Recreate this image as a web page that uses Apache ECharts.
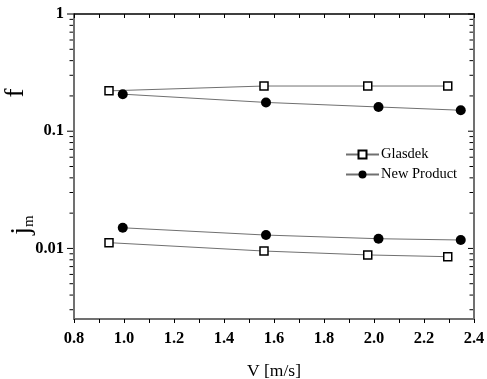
<!DOCTYPE html>
<html><head><meta charset="utf-8">
<script src="https://cdn.jsdelivr.net/npm/echarts@6/dist/echarts.min.js"></script>
<style>html,body{margin:0;padding:0;background:#fff}#c{width:487px;height:379px}</style>
</head><body><div id="c"></div>
<script>
// ---- data ----
const glasdekV = [0.94, 1.56, 1.975, 2.295];
const glasdekF = [0.221, 0.243, 0.243, 0.243];
const glasdekJm = [0.0112, 0.0095, 0.0088, 0.0085];
const newV = [0.995, 1.568, 2.018, 2.347];
const newF = [0.207, 0.176, 0.161, 0.151];
const newJm = [0.0150, 0.0130, 0.0121, 0.0118];
const seriesNames = ['Glasdek', 'New Product'];
const xTickLabels = ['0.8', '1.0', '1.2', '1.4', '1.6', '1.8', '2.0', '2.2', '2.4'];
const yTickValues = [0.01, 0.1, 1];
const yTickLabels = ['0.01', '0.1', '1'];
const yMinorTicks = [0.003, 0.004, 0.005, 0.006, 0.007, 0.008, 0.009,
  0.02, 0.03, 0.04, 0.05, 0.06, 0.07, 0.08, 0.09,
  0.2, 0.3, 0.4, 0.5, 0.6, 0.7, 0.8, 0.9];
const xMin = 0.8, xMax = 2.4, yMin = 0.0025, yMax = 1;

const serif = '"Liberation Serif", "Times New Roman", serif';
const lineColor = '#707070';
const pairs = (xs, ys) => xs.map((x, i) => [x, ys[i]]);

const squareStyle = {
  type: 'line', name: seriesNames[0], symbol: 'rect', symbolSize: 8,
  itemStyle: { color: '#fff', borderColor: '#000', borderWidth: 1.5 },
  lineStyle: { color: lineColor, width: 1 }
};
const circleStyle = {
  type: 'line', name: seriesNames[1], symbol: 'circle', symbolSize: 10,
  itemStyle: { color: '#000', borderColor: '#000', borderWidth: 0 },
  lineStyle: { color: lineColor, width: 1 }
};

const chart = echarts.init(document.getElementById('c'), null, { renderer: 'canvas' });
chart.setOption({
  animation: false,
  backgroundColor: '#fff',
  grid: { left: 74, right: 13, top: 14, bottom: 60, containLabel: false, outerBoundsMode: 'none' },
  legend: {
    data: seriesNames, left: 340, top: 142, orient: 'vertical',
    itemWidth: 33, itemHeight: 10, itemGap: 5,
    textStyle: { fontFamily: serif, fontSize: 14.5, color: '#000', padding: [0, 0, 0, -3] }
  },
  xAxis: [{
    type: 'value', min: xMin, max: xMax, interval: 0.1, position: 'bottom',
    name: 'V [m/s]', nameLocation: 'middle', nameGap: 43,
    nameTextStyle: { fontFamily: serif, fontSize: 17.5, color: '#000' },
    axisLine: { lineStyle: { color: lineColor, width: 2 } },
    axisTick: { show: true, inside: false, length: 4, lineStyle: { color: '#000', width: 1 } },
    axisLabel: {
      fontFamily: serif, fontWeight: 'bold', fontSize: 16.5, color: '#000', margin: 11,
      formatter: v => { const k = Math.round(v * 10); return k % 2 === 0 ? xTickLabels[(k - 8) / 2] : ''; }
    },
    splitLine: { show: false }
  }, {
    type: 'value', min: xMin, max: xMax, interval: 0.1, position: 'top',
    axisLine: { lineStyle: { color: '#000', width: 1.5 } },
    axisTick: { show: true, inside: true, length: 4, lineStyle: { color: '#000', width: 1 } },
    axisLabel: { show: false }, splitLine: { show: false }
  }],
  yAxis: [{
    type: 'log', logBase: 10, min: yMin, max: yMax, position: 'left',
    axisLine: { lineStyle: { color: lineColor, width: 2 } },
    axisTick: { show: false },
    axisLabel: {
      fontFamily: serif, fontWeight: 'bold', fontSize: 16.5, color: '#000', margin: 10,
      showMinLabel: false,
      formatter: v => { const i = yTickValues.findIndex(t => Math.abs(t - v) / t < 1e-6); return i >= 0 ? yTickLabels[i] : ''; }
    },
    splitLine: { show: false }
  }, {
    type: 'log', logBase: 10, min: yMin, max: yMax, position: 'right',
    axisLine: { lineStyle: { color: lineColor, width: 2 } },
    axisTick: { show: false }, axisLabel: { show: false }, splitLine: { show: false }
  }],
  graphic: [
    { type: 'text', x: 16, y: 93, rotation: Math.PI / 2,
      style: { text: 'f', font: '27px "Liberation Serif"', fill: '#000', textAlign: 'center', textVerticalAlign: 'middle' } },
    { type: 'text', x: 22, y: 225, rotation: Math.PI / 2,
      style: { text: '{a|j}{b|m}', fill: '#000', textAlign: 'center', textVerticalAlign: 'middle',
        rich: { a: { fontFamily: serif, fontSize: 28, lineHeight: 30, verticalAlign: 'middle' },
                b: { fontFamily: serif, fontSize: 15, lineHeight: 30, verticalAlign: 'bottom', padding: [9, 0, 0, 0] } } } }
  ],
  series: [
    Object.assign({ data: pairs(glasdekV, glasdekF) }, squareStyle),
    Object.assign({ data: pairs(newV, newF) }, circleStyle),
    Object.assign({ data: pairs(glasdekV, glasdekJm) }, squareStyle),
    Object.assign({ data: pairs(newV, newJm) }, circleStyle),
    {
      type: 'custom', name: 'yticks', silent: true, clip: false,
      data: yMinorTicks.map(v => [v, 0]).concat(yTickValues.map(v => [v, 1])),
      encode: { x: -1, y: 0 },
      renderItem: (params, api) => {
        const v = api.value(0), major = api.value(1) === 1;
        const pl = api.coord([xMin, v]), pr = api.coord([xMax, v]);
        const ll = major ? 6 : 3.5, lr = major ? 5 : 3.5;
        const st = { stroke: '#000', lineWidth: 1 };
        return { type: 'group', children: [
          { type: 'line', shape: { x1: pl[0] - 1 - ll, y1: pl[1], x2: pl[0] - 1, y2: pl[1] }, style: st },
          { type: 'line', shape: { x1: pr[0] - 1 - lr, y1: pr[1], x2: pr[0] - 1, y2: pr[1] }, style: st }
        ] };
      }
    }
  ]
});
</script></body></html>
